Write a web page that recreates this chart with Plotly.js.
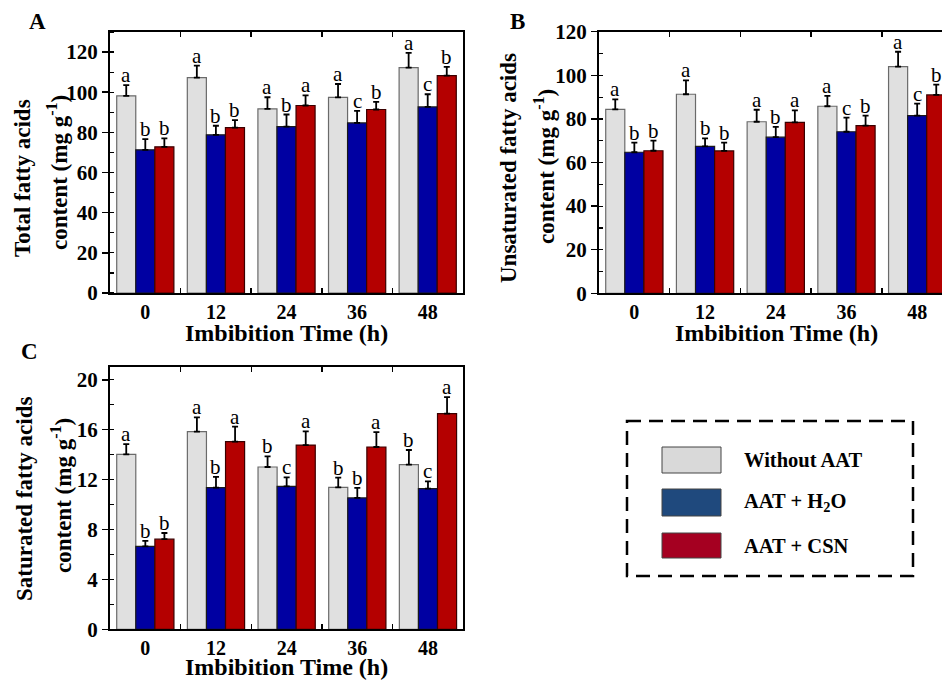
<!DOCTYPE html>
<html><head><meta charset="utf-8">
<script src="https://cdn.plot.ly/plotly-3.0.1.min.js"></script>
<style>html,body{margin:0;padding:0;background:#fff}#chart{width:942px;height:680px}</style>
</head><body><div id="chart"></div>
<script>
// ---- data ----
const times = ['0', '12', '24', '36', '48'];
const seriesNames = ['Without AAT', 'AAT + H<sub>2</sub>O', 'AAT + CSN'];

// Panel A: total fatty acids (mg g-1)
const totalWithout   = [98.2, 107.3, 91.7, 97.4, 112.3];
const totalWithoutSD = [5.3, 6.0, 5.8, 6.7, 7.3];
const totalH2O       = [71.3, 78.8, 82.9, 84.7, 92.7];
const totalH2OSD     = [5.3, 4.5, 6.0, 6.0, 6.3];
const totalCSN       = [72.8, 82.4, 93.4, 91.4, 108.3];
const totalCSNSD     = [4.2, 3.7, 5.0, 3.8, 4.3];
const totalWithoutLet = ['a', 'a', 'a', 'a', 'a'];
const totalH2OLet     = ['b', 'b', 'b', 'c', 'c'];
const totalCSNLet     = ['b', 'b', 'a', 'b', 'b'];

// Panel B: unsaturated fatty acids
const unsatWithout   = [84.4, 91.3, 78.7, 85.8, 104.0];
const unsatWithoutSD = [4.6, 6.4, 5.5, 4.8, 6.8];
const unsatH2O       = [64.7, 67.4, 71.6, 74.1, 81.5];
const unsatH2OSD     = [4.4, 3.7, 4.7, 6.5, 5.5];
const unsatCSN       = [65.4, 65.3, 78.4, 76.9, 91.0];
const unsatCSNSD     = [4.6, 3.8, 5.5, 4.6, 4.7];
const unsatWithoutLet = ['a', 'a', 'a', 'a', 'a'];
const unsatH2OLet     = ['b', 'b', 'b', 'c', 'c'];
const unsatCSNLet     = ['b', 'b', 'a', 'b', 'b'];

// Panel C: saturated fatty acids
const satWithout   = [14.02, 15.84, 13.01, 11.38, 13.20];
const satWithoutSD = [0.83, 1.14, 0.85, 0.78, 1.17];
const satH2O       = [6.64, 11.36, 11.46, 10.53, 11.28];
const satH2OSD     = [0.45, 0.85, 0.72, 0.80, 0.58];
const satCSN       = [7.22, 15.04, 14.77, 14.61, 17.28];
const satCSNSD     = [0.50, 1.20, 1.10, 1.20, 1.33];
const satWithoutLet = ['a', 'a', 'b', 'b', 'b'];
const satH2OLet     = ['b', 'b', 'c', 'b', 'c'];
const satCSNLet     = ['b', 'a', 'a', 'a', 'a'];

// ---- styling ----
const W = 942, H = 680;
const px = v => v / W;
const py = v => 1 - v / H;
const SERIF = 'Liberation Serif, Times New Roman, serif';
const barColors = ['#e0e0e0', '#0000a2', '#b40000'];
const barEdges = ['#6a6a6a', '#1a1a1a', '#3a0000'];
const legendColors = ['#d9d9d9', '#1f497d', '#a50021'];
const BARGAP = 0.19;
const barW = (1 - BARGAP) / 3;

const panels = [
  {xa: 'x', ya: 'y', means: [totalWithout, totalH2O, totalCSN], sds: [totalWithoutSD, totalH2OSD, totalCSNSD], lets: [totalWithoutLet, totalH2OLet, totalCSNLet]},
  {xa: 'x2', ya: 'y2', means: [unsatWithout, unsatH2O, unsatCSN], sds: [unsatWithoutSD, unsatH2OSD, unsatCSNSD], lets: [unsatWithoutLet, unsatH2OLet, unsatCSNLet]},
  {xa: 'x3', ya: 'y3', means: [satWithout, satH2O, satCSN], sds: [satWithoutSD, satH2OSD, satCSNSD], lets: [satWithoutLet, satH2OLet, satCSNLet]}
];

const traces = [];
const annotations = [];
panels.forEach(p => {
  p.means.forEach((m, j) => {
    traces.push({
      type: 'bar', name: seriesNames[j], x: times, y: m,
      xaxis: p.xa, yaxis: p.ya, showlegend: false, hoverinfo: 'skip',
      marker: {color: barColors[j], line: {color: barEdges[j], width: 1.2}},
      error_y: {type: 'data', symmetric: false, array: p.sds[j], arrayminus: m.map(() => 0),
                color: '#000', thickness: 1.8, width: 3}
    });
    m.forEach((v, i) => {
      annotations.push({
        xref: p.xa, yref: p.ya, x: i + (j - 1) * barW, y: v + p.sds[j][i],
        text: p.lets[j][i], showarrow: false, xanchor: 'center', yanchor: 'bottom', yshift: -4,
        font: {family: SERIF, size: 21, color: '#000'}
      });
    });
  });
});

function paperText(text, x, y, size, opts) {
  return Object.assign({xref: 'paper', yref: 'paper', x: px(x), y: py(y), text: text, showarrow: false,
    xanchor: 'center', yanchor: 'middle', font: {family: SERIF, size: size, color: '#000', weight: 'bold'}}, opts || {});
}
// panel labels
annotations.push(paperText('A', 37, 22, 23));
annotations.push(paperText('B', 517, 22, 23));
annotations.push(paperText('C', 29, 351, 23));
// x titles
annotations.push(paperText('Imbibition Time (h)', 286.5, 333, 24));
annotations.push(paperText('Imbibition Time (h)', 776, 333, 24));
annotations.push(paperText('Imbibition Time (h)', 286.5, 667, 24));
// y titles (two lines each)
annotations.push(paperText('Total fatty acids', 23, 178, 23, {textangle: -90}));
annotations.push(paperText('content (mg g<sup>-1</sup>)', 57, 173, 23, {textangle: -90}));
annotations.push(paperText('Unsaturated fatty acids', 508, 168, 23, {textangle: -90}));
annotations.push(paperText('content (mg g<sup>-1</sup>)', 544, 167, 23, {textangle: -90}));
annotations.push(paperText('Saturated fatty acids', 25, 499, 23, {textangle: -90}));
annotations.push(paperText('content (mg g<sup>-1</sup>)', 61, 496, 23, {textangle: -90}));

// legend
const shapes = [{type: 'rect', xref: 'paper', yref: 'paper', x0: px(627), x1: px(913), y0: py(421), y1: py(576),
  line: {color: '#000', width: 2.5, dash: '14px,8px'}, fillcolor: 'rgba(0,0,0,0)'}];
const legRows = [[447, 473], [489, 516], [533, 558]];
legRows.forEach((r, j) => {
  shapes.push({type: 'rect', xref: 'paper', yref: 'paper', x0: px(662), x1: px(721), y0: py(r[1]), y1: py(r[0]),
    line: {color: '#444', width: 1}, fillcolor: legendColors[j]});
  annotations.push(paperText(seriesNames[j], 742, (r[0] + r[1]) / 2, 20.5, {xanchor: 'left'}));
});

const tickFont = {family: SERIF, size: 21, color: '#000', weight: 'bold'};
const xTickFont = {family: SERIF, size: 20, color: '#000', weight: 'bold'};
function xAxis(domain, range, anchor) {
  return {domain: domain, anchor: anchor, type: 'category', range: range, tickfont: xTickFont,
    ticks: 'inside', tickson: 'boundaries', ticklen: 5, tickwidth: 1.5, tickcolor: '#000',
    showline: true, linewidth: 2, linecolor: '#000', mirror: 'ticks', showgrid: false, zeroline: false, fixedrange: true};
}
function yAxis(domain, range, dtick, minor, anchor, mirror) {
  return {domain: domain, anchor: anchor, range: range, dtick: dtick, tick0: 0, tickfont: tickFont,
    ticks: 'outside', ticklen: 6, tickwidth: 1.5, tickcolor: '#000',
    minor: {dtick: minor, tick0: 0, ticks: 'inside', ticklen: 4, tickwidth: 1.2, tickcolor: '#000', showgrid: false},
    showline: true, linewidth: 2, linecolor: '#000', mirror: mirror, showgrid: false, zeroline: false, fixedrange: true};
}

const layout = {
  width: W, height: H, margin: {l: 0, r: 0, t: 0, b: 0},
  paper_bgcolor: '#fff', plot_bgcolor: '#fff',
  barmode: 'group', bargap: BARGAP, bargroupgap: 0, showlegend: false,
  font: {family: SERIF, color: '#000'},
  xaxis: xAxis([px(110), px(463)], [-0.5, 4.5], 'y'),
  yaxis: yAxis([py(293), py(32)], [0, 130], 20, 10, 'x', true),
  xaxis2: xAxis([px(599), 1], [-0.5, 4.351], 'y2'),
  yaxis2: yAxis([py(293.3), py(31.7)], [0, 120], 20, 10, 'x2', false),
  xaxis3: xAxis([px(110), px(463.3)], [-0.5, 4.5], 'y3'),
  yaxis3: yAxis([py(629.3), py(367.3)], [0, 21], 4, 2, 'x3', true),
  annotations: annotations, shapes: shapes
};

Plotly.newPlot('chart', traces, layout, {staticPlot: true, displayModeBar: false});
</script></body></html>
